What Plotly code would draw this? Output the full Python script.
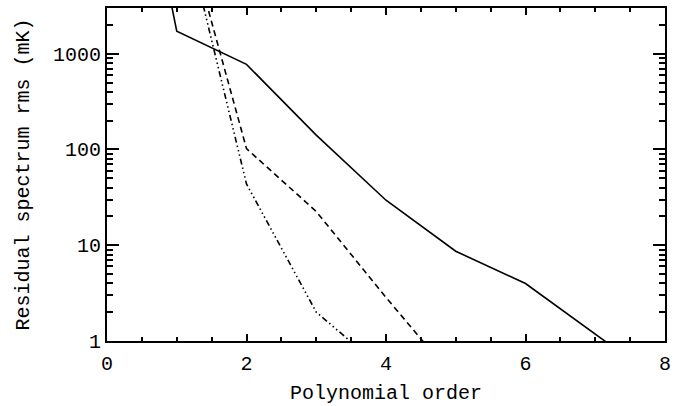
import plotly.graph_objects as go

# Data
orders_solid = [0, 1, 2, 3, 4, 5, 6, 7, 8]
rms_solid = [7.0e6, 1720, 773, 141, 29.5, 8.65, 3.98, 1.19, 0.35]

orders_dashed = [1, 2, 3, 4, 5]
rms_dashed = [45000, 102, 22.5, 2.85, 0.39]

orders_dotdash = [1, 2, 3, 4]
rms_dotdash = [44000, 43.6, 2.0, 0.48]

y_tickvals = [1, 10, 100, 1000]
y_ticktext = ["1", "10", "100", "1000"]
x_tickvals = [0, 2, 4, 6, 8]

FONT = "Liberation Mono"

fig = go.Figure()
fig.add_trace(go.Scatter(x=orders_solid, y=rms_solid, mode="lines",
                         line=dict(color="black", width=1.6)))
fig.add_trace(go.Scatter(x=orders_dashed, y=rms_dashed, mode="lines",
                         line=dict(color="black", width=1.6, dash="6px,4px")))
fig.add_trace(go.Scatter(x=orders_dotdash, y=rms_dotdash, mode="lines",
                         line=dict(color="black", width=1.6,
                                   dash="6px,3px,1.5px,3px,1.5px,3px,1.5px,3px")))

minor_y = [m * 10 ** d for d in range(0, 4) for m in range(2, 10)]
minor_y = [v for v in minor_y if v < 3000]

fig.update_layout(
    width=696, height=406,
    margin=dict(l=107, r=31, t=8, b=65),
    paper_bgcolor="white", plot_bgcolor="white",
    showlegend=False,
    font=dict(family=FONT, size=20, color="black"),
    xaxis=dict(
        range=[0, 8], tickmode="array", tickvals=x_tickvals,
        ticks="inside", ticklen=7, tickwidth=2, tickcolor="black",
        showline=True, linewidth=2, linecolor="black", mirror="ticks",
        showgrid=False, zeroline=False,
        minor=dict(tickmode="linear", tick0=0, dtick=0.5, ticks="inside",
                   ticklen=4, tickwidth=2, tickcolor="black", showgrid=False),
        title=dict(text="Polynomial order", font=dict(family=FONT, size=20), standoff=10),
        tickfont=dict(family=FONT, size=20),
        ticklabelstandoff=3,
        automargin=False,
    ),
    yaxis=dict(
        type="log", range=[0, 3.4771],
        tickmode="array", tickvals=y_tickvals, ticktext=y_ticktext,
        ticks="inside", ticklen=12, tickwidth=2, tickcolor="black",
        showline=True, linewidth=2, linecolor="black", mirror="ticks",
        showgrid=False, zeroline=False,
        minor=dict(tickmode="array", tickvals=minor_y, ticks="inside",
                   ticklen=6, tickwidth=2, tickcolor="black", showgrid=False),
        title=dict(text="Residual spectrum rms (mK)", font=dict(family=FONT, size=20), standoff=18),
        tickfont=dict(family=FONT, size=20),
        automargin=False,
    ),
)

fig.write_html("out.html")
